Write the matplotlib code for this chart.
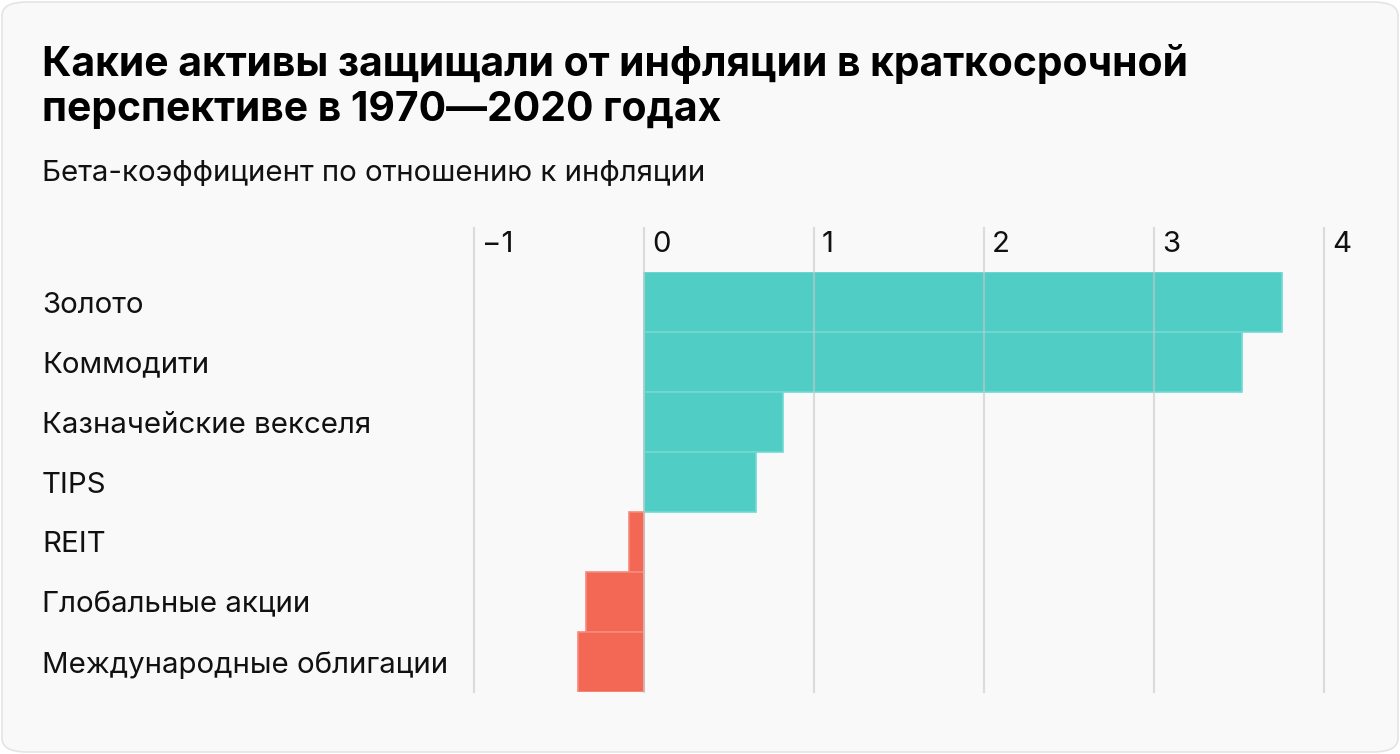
import matplotlib
matplotlib.use("Agg")
import matplotlib.pyplot as plt
from matplotlib.patches import FancyBboxPatch
import matplotlib.transforms as mtransforms

plt.rcParams['font.family'] = ['Inter', 'DejaVu Sans']

title_lines = ["Какие активы защищали от инфляции в краткосрочной",
               "перспективе в 1970—2020 годах"]
subtitle = "Бета-коэффициент по отношению к инфляции"
categories = ["Золото", "Коммодити", "Казначейские векселя", "TIPS", "REIT",
              "Глобальные акции", "Международные облигации"]
values = [3.75, 3.52, 0.82, 0.66, -0.09, -0.34, -0.39]
ticks = [-1, 0, 1, 2, 3, 4]
tick_labels = ["−1", "0", "1", "2", "3", "4"]

W, H = 1400, 754
fig = plt.figure(figsize=(W / 100, H / 100), dpi=100)
fig.patch.set_facecolor("white")

# card background
card = FancyBboxPatch((2 / W, 2 / H), (W - 4) / W, (H - 4) / H,
                      boxstyle="round,pad=0,rounding_size=0.018",
                      transform=fig.transFigure, facecolor="#f9f9f9",
                      edgecolor="#e4e4e4", linewidth=1.2, zorder=-10)
fig.patches.append(card)

def fy(y):
    return 1 - y / H

fig.text(42 / W, fy(76), title_lines[0], fontsize=29.4, fontweight="bold",
         color="#000000", va="baseline", ha="left")
fig.text(42 / W, fy(121), title_lines[1], fontsize=29.4, fontweight="bold",
         color="#000000", va="baseline", ha="left")
fig.text(42 / W, fy(181), subtitle, fontsize=21.2, color="#111111",
         va="baseline", ha="left")

ax_left, ax_right = 474, 1324
ax_top, ax_bottom = 272, 692
ax = fig.add_axes([ax_left / W, (H - ax_bottom) / H,
                   (ax_right - ax_left) / W, (ax_bottom - ax_top) / H])
ax.set_zorder(5)
ax.set_facecolor("none")
ax.set_xlim(-1, 4)
ax.set_ylim(len(categories) - 0.5, -0.5)
for s in ax.spines.values():
    s.set_visible(False)
ax.set_xticks([])
ax.set_yticks([])

face = ["#50cec6" if v >= 0 else "#f26854" for v in values]
edge = ["#72d9d2" if v >= 0 else "#f68a7a" for v in values]
ypos = list(range(len(categories)))
ax.barh(ypos, values, height=1.0, color=face, edgecolor=edge, linewidth=1.2,
        zorder=2)

# gridlines (extend above plot area up to tick labels)
trans = mtransforms.blended_transform_factory(ax.transData, ax.transAxes)
top_ext = 1 + (ax_top - 228) / (ax_bottom - ax_top)
for t in ticks:
    ax.plot([t, t], [0, top_ext], transform=trans, color="#c8c8c8",
            alpha=0.6, linewidth=1.5, clip_on=False, zorder=3)

offset = mtransforms.ScaledTranslation(8 / 100, 0, fig.dpi_scale_trans)
lab_y = 1 + (ax_top - 252) / (ax_bottom - ax_top)
for t, lab in zip(ticks, tick_labels):
    ax.text(t, lab_y, lab, transform=trans + offset, fontsize=21.2,
            color="#111111", ha="left", va="baseline", clip_on=False)

# category labels
for y, c in zip(ypos, categories):
    ax.text(42 / W, y, c, transform=mtransforms.blended_transform_factory(
        fig.transFigure, ax.transData), fontsize=21.2, color="#111111",
        ha="left", va="center_baseline", clip_on=False)

fig.savefig("out.png", dpi=100, facecolor=fig.get_facecolor())
